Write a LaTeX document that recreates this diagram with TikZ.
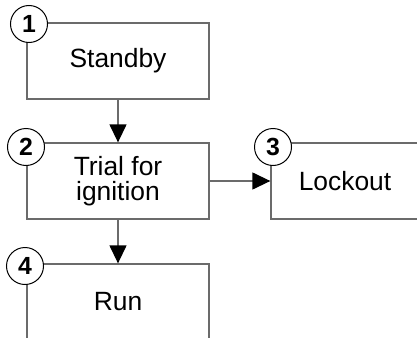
\documentclass[tikz,border=0pt]{standalone}
\usepackage{fontspec}
\setmainfont{Liberation Sans}
\usetikzlibrary{arrows.meta}
\definecolor{ln}{gray}{0.42}
\tikzset{
  box/.style={draw=ln, line width=0.65pt, fill=white, minimum height=38pt, inner sep=0pt,
    align=center, font=\fontsize{13.2}{12.8}\selectfont},
  num/.style={circle, draw=black, line width=0.5pt, fill=white, minimum size=18.5pt, inner sep=0pt,
    font=\fontsize{12.4}{12}\selectfont\bfseries},
  conn/.style={draw=ln, line width=0.65pt, -{Triangle[length=9pt,width=8.5pt,color=black]}}
}
\begin{document}
\begin{tikzpicture}[x=0.5pt,y=-0.5pt]
\clip (0,0) rectangle (417,337);
\fill[white] (0,0) rectangle (417,337);
\node[box, minimum width=91pt] (b1) at (118,61) {Standby};
\node[box, minimum width=91pt] (b2) at (118,181) {Trial for\\ignition};
\node[box, minimum width=74pt] (b3) at (345,181) {Lockout};
\node[box, minimum width=91pt] (b4) at (118,302) {Run};
\draw[conn] (b1.south) -- (b2.north);
\draw[conn] (b2.east) -- (b3.west);
\draw[conn] (b2.south) -- (b4.north);
\node[num] (n1) at (29,24) {1};
\node[num] (n2) at (26,147) {2};
\node[num] (n3) at (273,147) {3};
\node[num] (n4) at (25,266) {4};
\end{tikzpicture}
\end{document}
